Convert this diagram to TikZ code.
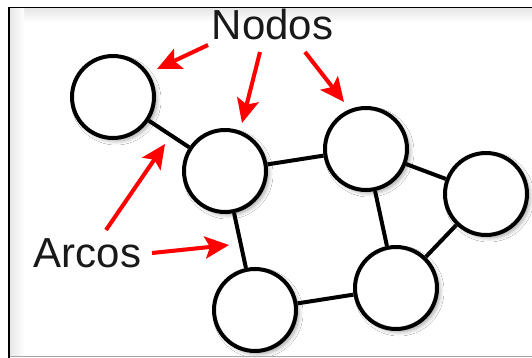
\documentclass[tikz,border=0pt]{standalone}
\usepackage{fontspec}
\setmainfont{Liberation Sans}
\usetikzlibrary{arrows.meta,shadows.blur}
\begin{document}
\begin{tikzpicture}[x=1pt,y=-1pt,
  nodo/.style={circle,draw=black,fill=white,line width=4pt,minimum size=82pt,inner sep=0pt,
    blur shadow={shadow xshift=3pt,shadow yshift=-3pt,shadow blur steps=6,shadow opacity=35,shadow blur radius=4pt}},
  arco/.style={line width=4pt,black},
  flecha/.style={draw=red,line width=4pt,-{Stealth[length=24pt,width=22pt,inset=5pt]}},
  sombra/.style={draw=black,opacity=0.12,line width=4pt,-{Stealth[length=24pt,width=22pt,inset=5pt]}},
  etiqueta/.style={font=\fontsize{42}{50}\selectfont,inner sep=0pt,anchor=base,text=black!90}]
\useasboundingbox (0,0) rectangle (532,358);
\fill[white] (0,0) rectangle (532,358);
% frame inner shading
\shade[top color=black!10,bottom color=white] (9,8) rectangle (532,22);
\shade[left color=black!10,right color=white] (9,8) rectangle (24,356);
\draw[black,line width=1.6pt] (532,7.5) -- (9,7.5) -- (9,358);
% nodes
\node[nodo] (n1) at (113,97) {};
\node[nodo] (n2) at (225,171) {};
\node[nodo] (n3) at (366,149) {};
\node[nodo] (n4) at (486,194) {};
\node[nodo] (n5) at (396,288) {};
\node[nodo] (n6) at (255,310) {};
% edges
\draw[arco] (n1) -- (n2);
\draw[arco] (n2) -- (n3);
\draw[arco] (n3) -- (n4);
\draw[arco] (n3) -- (n5);
\draw[arco] (n4) -- (n5);
\draw[arco] (n2) -- (n6);
\draw[arco] (n6) -- (n5);
% bottom edge of frame
\fill[white] (9.8,357.3) rectangle (532,358);
\draw[black!35,line width=1.5pt] (9.8,356.5) -- (532,356.5);
% labels
\node[etiqueta] (nodos) at (272.5,40) {Nodos};
\node[etiqueta] (arcos) at (87.5,267) {Arcos};
% arrow endpoints
\coordinate (a1s) at (208,45);  \coordinate (a1e) at (157,69);
\coordinate (a2s) at (260,52);  \coordinate (a2e) at (242,123);
\coordinate (a3s) at (305,52);  \coordinate (a3e) at (344,102);
\coordinate (b1s) at (106,230); \coordinate (b1e) at (165,144);
\coordinate (b2s) at (152,253); \coordinate (b2e) at (229,245);
\foreach \s/\e in {a1s/a1e,a2s/a2e,a3s/a3e,b1s/b1e,b2s/b2e}{
  \draw[sombra,shift={(3pt,-3pt)}] (\s) -- (\e);
}
\draw[flecha] (a1s) -- (a1e);
\draw[flecha] (a2s) -- (a2e);
\draw[flecha] (a3s) -- (a3e);
\draw[flecha] (b1s) -- (b1e);
\draw[flecha] (b2s) -- (b2e);
\end{tikzpicture}
\end{document}
